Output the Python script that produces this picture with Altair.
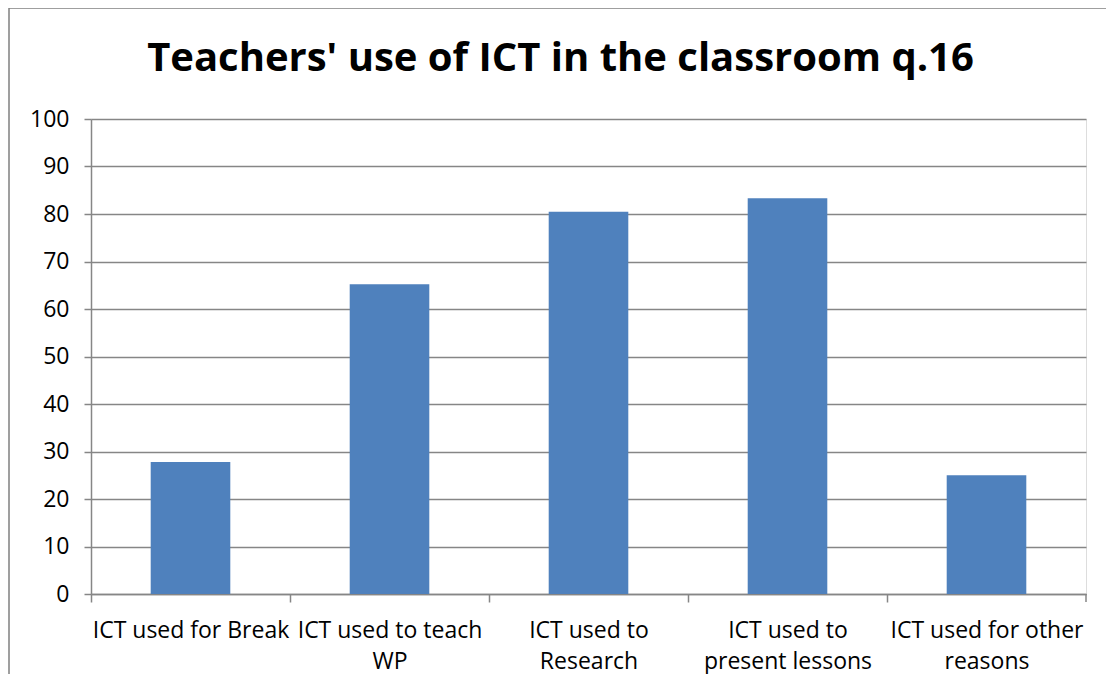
import altair as alt
import pandas as pd

categories = [
    "ICT used for Break",
    "ICT used to teach\nWP",
    "ICT used to\nResearch",
    "ICT used to\npresent lessons",
    "ICT used for other\nreasons",
]
values = [27.8, 65.2, 80.5, 83.3, 25.0]
y_ticks = [0, 10, 20, 30, 40, 50, 60, 70, 80, 90, 100]

df = pd.DataFrame({"cat": categories, "val": values})

W, H = 995, 475
GRID = "#868686"
FONT = "Open Sans"

bars = alt.Chart(df).mark_bar(color="#4F81BD").encode(
    x=alt.X(
        "cat:N",
        sort=categories,
        scale=alt.Scale(paddingInner=0.6, paddingOuter=0.3),
        axis=alt.Axis(
            title=None,
            labelAngle=0,
            labelExpr="split(datum.label, '\\n')",
            labelLineHeight=31,
            labelFont=FONT,
            labelFontSize=23,
            labelColor="#000000",
            labelPadding=17,
            labelOverlap=False,
            labelBound=False,
            labelLimit=400,
            labelOffset=W / 10,
            domainColor=GRID,
            domainWidth=1.5,
            tickColor=GRID,
            tickSize=8,
            tickWidth=1.5,
            tickOffset=-W / 10,
            grid=False,
        ),
    ),
    y=alt.Y(
        "val:Q",
        scale=alt.Scale(domain=[0, 100], nice=False),
        axis=alt.Axis(
            title=None,
            values=y_ticks,
            labelFont=FONT,
            labelFontSize=23,
            labelColor="#000000",
            labelPadding=15,
            domainColor=GRID,
            domainWidth=1.5,
            tickColor=GRID,
            tickSize=7,
            tickWidth=1.5,
            gridColor=GRID,
            gridWidth=1.5,
        ),
    ),
)

end_tick = alt.Chart(alt.Data(values=[{}])).mark_rule(color=GRID, strokeWidth=1.5).encode(
    x=alt.value(W), y=alt.value(H), y2=alt.value(H + 8)
)

border = alt.Chart(alt.Data(values=[{}])).mark_rect(
    fill=None, fillOpacity=0, stroke="#808080", strokeWidth=1.5
).encode(
    x=alt.value(-82), x2=alt.value(1040), y=alt.value(-111), y2=alt.value(H + 200)
)

chart = alt.layer(border, bars, end_tick).properties(
    width=W,
    height=H,
    title=alt.TitleParams(
        "Teachers' use of ICT in the classroom q.16",
        font=FONT,
        fontSize=40,
        fontWeight="bold",
        color="#000000",
        anchor="middle",
        frame="group",
        dx=-28,
        offset=-104,
        baseline="alphabetic",
    ),
    autosize=alt.AutoSizeParams(type="none"),
    padding={"left": 83, "top": 111, "right": 20, "bottom": 80},
).configure_view(stroke=None).configure(background="white")

chart.save("out.html", embed_options={"renderer": "svg", "actions": False})
